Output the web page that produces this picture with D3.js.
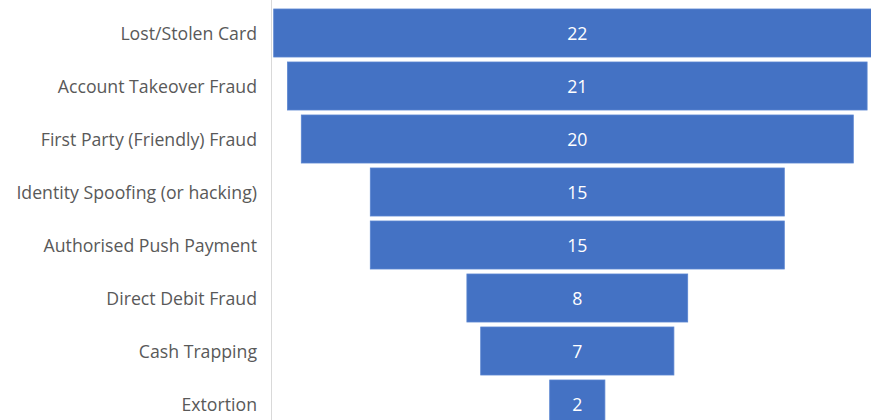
<!DOCTYPE html>
<html>
<head>
<meta charset="utf-8">
<script src="https://cdn.jsdelivr.net/npm/d3@7"></script>
<style>
  html, body { margin: 0; padding: 0; background: #ffffff; }
  svg { display: block; }
</style>
</head>
<body>
<svg id="chart" width="871" height="420"></svg>
<script>
const categories = [
  "Lost/Stolen Card",
  "Account Takeover Fraud",
  "First Party (Friendly) Fraud",
  "Identity Spoofing (or hacking)",
  "Authorised Push Payment",
  "Direct Debit Fraud",
  "Cash Trapping",
  "Extortion"
];
const values = [22, 21, 20, 15, 15, 8, 7, 2];

const W = 871, H = 420;
const svg = d3.select("#chart");

const axisX = 271.5;
const centerX = 577.3;
const unit = 27.6;

const y = d3.scaleBand()
  .domain(categories)
  .range([6.5, 6.5 + 53 * categories.length])
  .paddingInner(0.094)
  .paddingOuter(0.047);

const halfW = d3.scaleLinear().domain([0, 1]).range([0, unit / 2]);

svg.selectAll("rect.bar")
  .data(values)
  .join("rect")
  .attr("class", "bar")
  .attr("x", d => centerX - halfW(d))
  .attr("width", d => 2 * halfW(d))
  .attr("y", (d, i) => y(categories[i]))
  .attr("height", y.bandwidth())
  .attr("fill", "#4472C4")
  .attr("stroke", "#5a85d0")
  .attr("stroke-width", 0.8);

svg.append("line")
  .attr("x1", axisX).attr("x2", axisX)
  .attr("y1", 0).attr("y2", H)
  .attr("stroke", "#d9d9d9")
  .attr("stroke-width", 1);

svg.selectAll("text.cat")
  .data(categories)
  .join("text")
  .attr("class", "cat")
  .attr("x", 257)
  .attr("y", d => y(d) + y.bandwidth() / 2)
  .attr("text-anchor", "end")
  .attr("dominant-baseline", "central")
  .attr("font-family", "'Open Sans', sans-serif")
  .attr("font-size", 17.7)
  .attr("fill", "#595959")
  .text(d => d);

svg.selectAll("text.val")
  .data(values)
  .join("text")
  .attr("class", "val")
  .attr("x", centerX)
  .attr("y", (d, i) => y(categories[i]) + y.bandwidth() / 2)
  .attr("text-anchor", "middle")
  .attr("dominant-baseline", "central")
  .attr("font-family", "'Open Sans', sans-serif")
  .attr("font-size", 17.7)
  .attr("fill", "#ffffff")
  .text(d => d);
</script>
</body>
</html>
